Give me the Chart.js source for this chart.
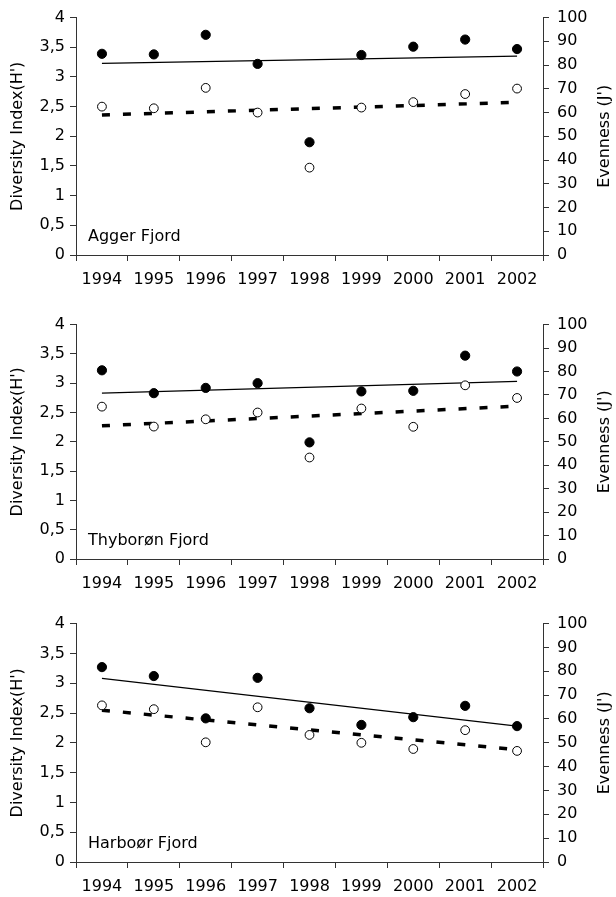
<!DOCTYPE html>
<html>
<head>
<meta charset="utf-8">
<script src="https://cdn.jsdelivr.net/npm/chart.js@4/dist/chart.umd.min.js"></script>
<style>
  html, body { margin: 0; padding: 0; background: #fff; }
  #wrap { position: relative; width: 616px; height: 897px; }
  .panel { position: absolute; left: 0; width: 616px; }
</style>
</head>
<body>
<div id="wrap">
  <div class="panel" style="top:0px;height:300px"><canvas id="c1"></canvas></div>
  <div class="panel" style="top:307px;height:299px"><canvas id="c2"></canvas></div>
  <div class="panel" style="top:606px;height:291px"><canvas id="c3"></canvas></div>
</div>
<script>
// --- Data ---
const years = ['1994', '1995', '1996', '1997', '1998', '1999', '2000', '2001', '2002'];
const diversityTicks = [0, 0.5, 1, 1.5, 2, 2.5, 3, 3.5, 4];
const evennessTicks = [0, 10, 20, 30, 40, 50, 60, 70, 80, 90, 100];

// Agger Fjord
const aggerDiversity = [3.39, 3.38, 3.71, 3.22, 1.90, 3.37, 3.51, 3.63, 3.47];
const aggerEvenness = [62.5, 61.8, 70.4, 60.0, 36.8, 62.1, 64.4, 67.8, 70.1];
const aggerDiversityTrend = [3.23, 3.35];   // 1994 -> 2002
const aggerEvennessTrend = [59.0, 64.3];

// Thyborøn Fjord
const thyboronDiversity = [3.22, 2.83, 2.92, 3.00, 1.99, 2.86, 2.87, 3.47, 3.20];
const thyboronEvenness = [65.0, 56.5, 59.6, 62.5, 43.3, 64.2, 56.4, 74.1, 68.7];
const thyboronDiversityTrend = [2.83, 3.03];
const thyboronEvennessTrend = [56.8, 65.2];

// Harboør Fjord
const harboorDiversity = [3.27, 3.12, 2.41, 3.09, 2.58, 2.30, 2.43, 2.62, 2.28];
const harboorEvenness = [65.7, 64.1, 50.2, 64.9, 53.3, 50.0, 47.4, 55.3, 46.6];
const harboorDiversityTrend = [3.08, 2.28];
const harboorEvennessTrend = [63.7, 47.1];

// --- Styling ---
const FONT = 'DejaVu Sans';
const AXIS = '#333';
Chart.defaults.font.family = FONT;
Chart.defaults.font.size = 16;
Chart.defaults.color = '#000';

// draws the fjord name and the right axis title (reads bottom-to-top)
const extraText = {
    id: 'extraText',
    afterDraw(chart, args, opts) {
        const ctx = chart.ctx;
        const area = chart.chartArea;
        ctx.save();
        ctx.fillStyle = '#000';
        ctx.font = '16px ' + FONT;
        ctx.textAlign = 'left';
        ctx.textBaseline = 'alphabetic';
        ctx.fillText(opts.name, area.left + 12, area.bottom - 14);

        ctx.translate(605, (area.top + area.bottom) / 2);
        ctx.rotate(-Math.PI / 2);
        ctx.textAlign = 'center';
        ctx.textBaseline = 'middle';
        ctx.fillText("Evenness (J')", 0, 0);
        ctx.restore();
    }
};

function makePanel(id, name, diversity, evenness, divTrend, evenTrend, xAxisHeight) {
    const ctx = document.getElementById(id).getContext('2d');
    const first = years[0];
    const last = years[years.length - 1];

    return new Chart(ctx, {
        type: 'line',
        data: {
            labels: years,
            datasets: [
                {
                    data: diversity,
                    yAxisID: 'y',
                    showLine: false,
                    pointRadius: 4.6,
                    pointBackgroundColor: '#000',
                    pointBorderColor: '#000',
                    pointBorderWidth: 1
                },
                {
                    data: evenness,
                    yAxisID: 'y2',
                    showLine: false,
                    pointRadius: 4.4,
                    pointBackgroundColor: '#fff',
                    pointBorderColor: '#000',
                    pointBorderWidth: 1
                },
                {
                    data: [{ x: first, y: divTrend[0] }, { x: last, y: divTrend[1] }],
                    yAxisID: 'y',
                    borderColor: '#000',
                    borderWidth: 1.2,
                    pointRadius: 0
                },
                {
                    data: [{ x: first, y: evenTrend[0] }, { x: last, y: evenTrend[1] }],
                    yAxisID: 'y2',
                    borderColor: '#000',
                    borderWidth: 3.5,
                    borderDash: [8, 13],
                    pointRadius: 0
                }
            ]
        },
        options: {
            responsive: true,
            maintainAspectRatio: false,
            animation: false,
            layout: { padding: { top: 15, left: 0, right: 0, bottom: 0 } },
            plugins: {
                legend: { display: false },
                tooltip: { enabled: false },
                extraText: { name: name }
            },
            scales: {
                x: {
                    type: 'category',
                    offset: true,
                    grid: {
                        offset: true,
                        drawOnChartArea: false,
                        color: AXIS,
                        tickLength: 6
                    },
                    border: { color: AXIS },
                    ticks: { padding: 9, maxRotation: 0, autoSkip: false },
                    afterFit(scale) { scale.height = xAxisHeight; }
                },
                y: {
                    position: 'left',
                    min: 0,
                    max: 4,
                    afterBuildTicks(scale) {
                        scale.ticks = diversityTicks.map(v => ({ value: v }));
                    },
                    grid: { drawOnChartArea: false, color: AXIS, tickLength: 6 },
                    border: { color: AXIS },
                    ticks: {
                        padding: 5,
                        callback: v => String(v).replace('.', ',')
                    },
                    title: {
                        display: true,
                        text: "Diversity Index(H')",
                        padding: { top: 8, bottom: 0 }
                    },
                    afterFit(scale) { scale.width = 76; }
                },
                y2: {
                    position: 'right',
                    min: 0,
                    max: 100,
                    afterBuildTicks(scale) {
                        scale.ticks = evennessTicks.map(v => ({ value: v }));
                    },
                    grid: { drawOnChartArea: false, color: AXIS, tickLength: 6 },
                    border: { color: AXIS },
                    ticks: { padding: 8 },
                    afterFit(scale) { scale.width = 73; }
                }
            }
        },
        plugins: [extraText]
    });
}

makePanel('c1', 'Agger Fjord', aggerDiversity, aggerEvenness, aggerDiversityTrend, aggerEvennessTrend, 45);
makePanel('c2', 'Thyborøn Fjord', thyboronDiversity, thyboronEvenness, thyboronDiversityTrend, thyboronEvennessTrend, 47);
makePanel('c3', 'Harboør Fjord', harboorDiversity, harboorEvenness, harboorDiversityTrend, harboorEvennessTrend, 35);
</script>
</body>
</html>
